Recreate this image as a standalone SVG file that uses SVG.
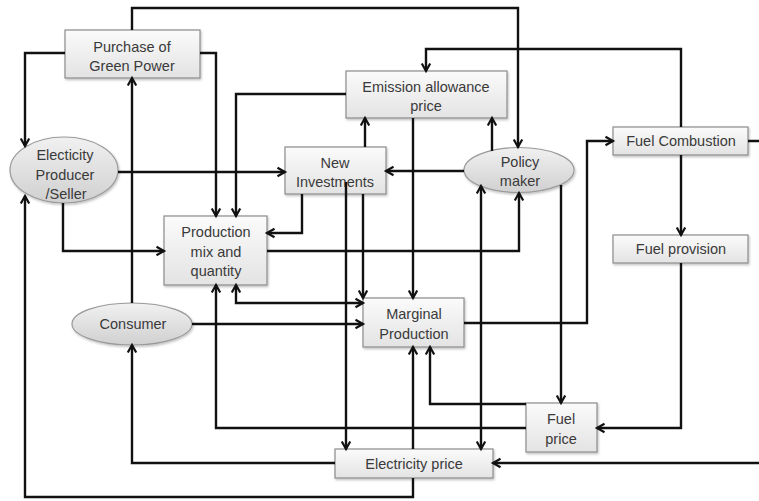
<svg xmlns="http://www.w3.org/2000/svg" width="759" height="501" viewBox="0 0 759 501">
<defs>
<linearGradient id="gBox" x1="0" y1="0" x2="0" y2="1"><stop offset="0" stop-color="#fbfbfb"/><stop offset="1" stop-color="#e3e3e3"/></linearGradient>
<linearGradient id="gEll" x1="0" y1="0" x2="0" y2="1"><stop offset="0" stop-color="#f1f1f1"/><stop offset="1" stop-color="#d0d0d0"/></linearGradient>
<filter id="sh" x="-10%" y="-10%" width="130%" height="140%"><feDropShadow dx="1" dy="1.5" stdDeviation="1" flood-color="#000" flood-opacity="0.25"/></filter>
<marker id="ar" markerWidth="12" markerHeight="12" refX="9" refY="5" orient="auto-start-reverse" markerUnits="userSpaceOnUse" viewBox="0 0 12 10"><path d="M1.5,0.8 L9,5 L1.5,9.2" fill="none" stroke="#111" stroke-width="2.2"/></marker>
</defs>
<style>
.box{fill:url(#gBox);stroke:#8c8c8c;stroke-width:1.2;filter:url(#sh)}
.ell{fill:url(#gEll);stroke:#9a9a9a;stroke-width:1.2;filter:url(#sh)}
text{font-family:"Liberation Sans",Arial,sans-serif;font-size:14.5px;fill:#3a3a3a;text-anchor:middle}
.c path{fill:none;stroke:#111;stroke-width:2.4}
.c .e{marker-end:url(#ar)}
.c .b{marker-start:url(#ar);marker-end:url(#ar)}
</style>
<rect width="759" height="501" fill="#fff"/>
<g id="purchase"><rect class="box" x="65" y="30" width="135" height="48"/><text x="132" y="52">Purchase of</text><text x="132" y="71">Green Power</text></g>
<g id="emission"><rect class="box" x="346" y="71" width="161" height="47"/><text x="426" y="92">Emission allowance</text><text x="426" y="111">price</text></g>
<g id="newinv"><rect class="box" x="285" y="147" width="101" height="47"/><text x="335" y="168">New</text><text x="335" y="187">Investments</text></g>
<g id="policy"><ellipse class="ell" cx="519" cy="170" rx="55" ry="22.5"/><text x="520" y="167">Policy</text><text x="520" y="186">maker</text></g>
<g id="producer"><ellipse class="ell" cx="64" cy="170" rx="54" ry="33"/><text x="65" y="160">Electicity</text><text x="65" y="180">Producer</text><text x="66" y="199">/Seller</text></g>
<g id="prodmix"><rect class="box" x="164" y="216" width="103" height="69"/><text x="216" y="237">Production</text><text x="216" y="257">mix and</text><text x="216" y="276">quantity</text></g>
<g id="consumer"><ellipse class="ell" cx="132" cy="324" rx="60" ry="21"/><text x="133" y="329">Consumer</text></g>
<g id="marginal"><rect class="box" x="363" y="298" width="101" height="49"/><text x="414" y="319">Marginal</text><text x="414" y="339">Production</text></g>
<g id="fuelcomb"><rect class="box" x="613" y="127" width="135" height="28"/><text x="681" y="146">Fuel Combustion</text></g>
<g id="fuelprov"><rect class="box" x="613" y="235" width="135" height="28"/><text x="681" y="254">Fuel provision</text></g>
<g id="fuelprice"><rect class="box" x="526" y="403" width="71" height="49"/><text x="561" y="424">Fuel</text><text x="561" y="444">price</text></g>
<g id="elecprice"><rect class="box" x="335" y="449" width="158" height="29"/><text x="414" y="469">Electricity price</text></g>
<g id="connectors" class="c">
<path class="e" d="M132,30 V8 H518 V147"/>
<path class="e" d="M65,53 H25 V146"/>
<path class="e" d="M200,53 H216 V216"/>
<path class="e" d="M346,94 H236 V216"/>
<path class="e" d="M132,303 V78"/>
<path class="e" d="M118,172 H285"/>
<path class="e" d="M63,203 V251 H164"/>
<path class="e" d="M413,478 V497 H25 V196"/>
<path class="e" d="M335,463 H132 V345"/>
<path class="e" d="M526,428 H216 V285"/>
<path class="e" d="M526,404 H430 V347"/>
<path class="e" d="M413,449 V347"/>
<path class="b" d="M236,285 V303 H363"/>
<path class="e" d="M192,324 H363"/>
<path class="e" d="M302,194 V233 H267"/>
<path class="e" d="M346,182 V449"/>
<path class="e" d="M363,194 V298"/>
<path class="e" d="M413,118 V298"/>
<path class="e" d="M365,147 V118"/>
<path class="e" d="M492,151 V118"/>
<path class="e" d="M464,171 H386"/>
<path class="e" d="M681,127 V49 H426 V71"/>
<path class="e" d="M681,155 V235"/>
<path class="e" d="M681,263 V428 H597"/>
<path class="e" d="M748,141 H775 V463 H493"/>
<path class="e" d="M464,323 H587 V141 H613"/>
<path class="e" d="M267,251 H519 V193"/>
<path class="e" d="M561,185 V403"/>
<path class="b" d="M481,186 V449"/>
</g>
</svg>
